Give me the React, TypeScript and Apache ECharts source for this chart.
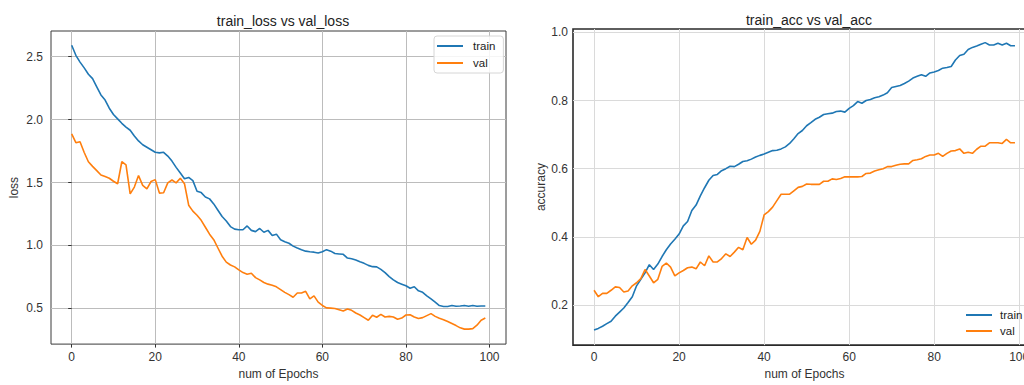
import React, { useEffect, useRef } from "react";
import * as echarts from "echarts";

const trainLoss = [
  2.59, 2.51, 2.456, 2.41, 2.36, 2.325, 2.26, 2.195, 2.155, 2.09,
  2.04, 2.005, 1.97, 1.94, 1.915, 1.87, 1.83, 1.8, 1.78, 1.76,
  1.74, 1.735, 1.74, 1.71, 1.67, 1.62, 1.575, 1.53, 1.54, 1.515,
  1.43, 1.42, 1.385, 1.37, 1.33, 1.28, 1.23, 1.195, 1.15, 1.13,
  1.125, 1.125, 1.155, 1.12, 1.11, 1.135, 1.105, 1.12, 1.08, 1.09,
  1.045, 1.03, 1.018, 0.995, 0.98, 0.967, 0.955, 0.95, 0.947, 0.94,
  0.95, 0.967, 0.955, 0.936, 0.933, 0.93, 0.9, 0.894, 0.884, 0.87,
  0.858, 0.842, 0.832, 0.83, 0.81, 0.785, 0.753, 0.727, 0.706, 0.693,
  0.68, 0.66, 0.672, 0.64, 0.628, 0.6, 0.576, 0.55, 0.523, 0.516,
  0.516, 0.523, 0.518, 0.52, 0.523, 0.518, 0.523, 0.518, 0.52, 0.52,
];

const valLoss = [
  1.886, 1.816, 1.824, 1.738, 1.665, 1.628, 1.594, 1.56, 1.547, 1.534,
  1.51, 1.49, 1.665, 1.64, 1.41, 1.464, 1.555, 1.477, 1.45, 1.508,
  1.523, 1.416, 1.419, 1.497, 1.52, 1.497, 1.534, 1.49, 1.32, 1.273,
  1.24, 1.2, 1.145, 1.09, 1.046, 0.98, 0.915, 0.868, 0.845, 0.83,
  0.806, 0.785, 0.772, 0.78, 0.745, 0.727, 0.706, 0.693, 0.685, 0.672,
  0.65, 0.628, 0.61, 0.589, 0.623, 0.623, 0.636, 0.576, 0.6, 0.55,
  0.524, 0.505, 0.503, 0.5, 0.49, 0.48, 0.495, 0.485, 0.464, 0.448,
  0.427, 0.406, 0.446, 0.43, 0.453, 0.432, 0.437, 0.432, 0.414, 0.424,
  0.448, 0.45, 0.432, 0.42, 0.427, 0.443, 0.459, 0.437, 0.422, 0.411,
  0.396, 0.38, 0.364, 0.346, 0.336, 0.336, 0.34, 0.367, 0.406, 0.424,
];

const trainAcc = [
  0.126, 0.131, 0.1375, 0.145, 0.152, 0.167, 0.179, 0.191, 0.207, 0.224,
  0.256, 0.275, 0.294, 0.318, 0.304, 0.32, 0.342, 0.362, 0.379, 0.393,
  0.408, 0.432, 0.445, 0.477, 0.493, 0.52, 0.544, 0.566, 0.58, 0.583,
  0.594, 0.6, 0.607, 0.606, 0.613, 0.621, 0.623, 0.628, 0.634, 0.639,
  0.643, 0.648, 0.653, 0.654, 0.658, 0.664, 0.674, 0.688, 0.703, 0.712,
  0.726, 0.735, 0.745, 0.751, 0.759, 0.761, 0.763, 0.768, 0.769, 0.766,
  0.777, 0.785, 0.797, 0.792, 0.8, 0.803, 0.808, 0.811, 0.816, 0.823,
  0.838, 0.841, 0.844, 0.85, 0.857, 0.866, 0.871, 0.876, 0.871, 0.881,
  0.884, 0.888, 0.895, 0.897, 0.9, 0.919, 0.932, 0.936, 0.95, 0.956,
  0.96, 0.965, 0.97, 0.963, 0.963, 0.968, 0.963, 0.968, 0.961, 0.961,
];

const valAcc = [
  0.243, 0.224, 0.234, 0.234, 0.243, 0.253, 0.251, 0.238, 0.241, 0.256,
  0.265, 0.277, 0.304, 0.285, 0.265, 0.275, 0.313, 0.323, 0.311, 0.285,
  0.294, 0.301, 0.309, 0.311, 0.306, 0.326, 0.315, 0.344, 0.326, 0.326,
  0.336, 0.35, 0.342, 0.355, 0.369, 0.362, 0.398, 0.378, 0.39, 0.416,
  0.464, 0.474, 0.487, 0.506, 0.525, 0.525, 0.525, 0.535, 0.545, 0.548,
  0.555, 0.554, 0.554, 0.554, 0.563, 0.563, 0.57, 0.568, 0.571, 0.576,
  0.576, 0.576, 0.576, 0.577, 0.586, 0.587, 0.593, 0.597, 0.6, 0.606,
  0.606, 0.61, 0.613, 0.614, 0.614, 0.624, 0.626, 0.629, 0.636, 0.64,
  0.64, 0.645, 0.636, 0.645, 0.652, 0.653, 0.658, 0.645, 0.648, 0.645,
  0.657, 0.666, 0.666, 0.676, 0.676, 0.676, 0.674, 0.686, 0.676, 0.676,
];

const xTicks = [0, 20, 40, 60, 80, 100];
const lossTicks = [0.5, 1.0, 1.5, 2.0, 2.5];
const accTicks = [0.2, 0.4, 0.6, 0.8, 1.0];
const seriesNames = ["train", "val"];
const titles = ["train_loss vs val_loss", "train_acc vs val_acc"];
const xName = "num of Epochs";
const yNames = ["loss", "accuracy"];

const BLUE = "#1f77b4";
const ORANGE = "#ff7f0e";
const FONT = "Liberation Sans";

const pairs = (arr: number[]) => arr.map((v, i) => [i, v]);

export default function App() {
  const ref = useRef<HTMLDivElement>(null);
  useEffect(() => {
    if (!ref.current) return;
    const chart = echarts.init(ref.current, undefined, { renderer: "svg" });
    const tickLabel = { fontFamily: FONT, fontSize: 12, color: "#333" };
    const nameStyle = { fontFamily: FONT, fontSize: 12, color: "#333" };
    const option: any = {
      animation: false,
      backgroundColor: "#ffffff",
      title: [
        {
          text: titles[0],
          left: 278,
          top: 9,
          textAlign: "center",
          textStyle: { fontFamily: FONT, fontSize: 14, fontWeight: "normal", color: "#222" },
        },
        {
          text: titles[1],
          left: 804,
          top: 8,
          textAlign: "center",
          textStyle: { fontFamily: FONT, fontSize: 14, fontWeight: "normal", color: "#222" },
        },
      ],
      legend: [
        {
          data: seriesNames,
          orient: "vertical",
          left: 434,
          top: 36,
          padding: [4, 8, 4, 3],
          itemGap: 5,
          itemWidth: 26,
          itemHeight: 2,
          icon: "rect",
          borderColor: "#d6d6d6",
          borderWidth: 1,
          borderRadius: 3,
          backgroundColor: "rgba(255,255,255,0.85)",
          textStyle: { fontFamily: FONT, fontSize: 11.5, color: "#222", padding: [0, 0, 0, 5] },
          selectedMode: false,
        },
        {
          data: seriesNames,
          orient: "vertical",
          left: 966,
          top: 309,
          padding: 0,
          itemGap: 4,
          itemWidth: 26,
          itemHeight: 2,
          icon: "rect",
          textStyle: { fontFamily: FONT, fontSize: 11.5, color: "#222", padding: [0, 0, 0, 3] },
          selectedMode: false,
        },
      ],
      grid: [
        {
          left: 51,
          top: 31,
          width: 455,
          height: 316,
          show: true,
          borderColor: "#3a3a3a",
          borderWidth: 1,
          backgroundColor: "transparent",
        },
        {
          left: 573,
          top: 29,
          width: 463,
          height: 321,
          show: true,
          borderColor: "#2a2a2a",
          borderWidth: 1.6,
          backgroundColor: "transparent",
        },
      ],
      xAxis: [0, 1].map((g) => ({
        type: "value",
        gridIndex: g,
        min: -4.95,
        max: 103.95,
        name: xName,
        nameLocation: "middle",
        nameGap: g === 0 ? 22 : 20,
        nameTextStyle: nameStyle,
        axisLine: { show: false },
        axisTick: {
          show: g === 0,
          customValues: xTicks,
          length: 3.5,
          lineStyle: { color: "#333" },
        },
        axisLabel: {
          ...tickLabel,
          customValues: xTicks,
          margin: g === 0 ? 7 : 6,
        },
        splitLine: {
          show: true,
          lineStyle: { color: g === 0 ? "#bcbcbc" : "#dadada", width: 1 },
        },
      })),
      yAxis: [0, 1].map((g) => ({
        type: "value",
        gridIndex: g,
        min: g === 0 ? 0.217 : 0.082,
        max: g === 0 ? 2.703 : 1.01,
        name: yNames[g],
        nameLocation: "middle",
        nameGap: g === 0 ? 31 : 26,
        nameTextStyle: nameStyle,
        axisLine: { show: false },
        axisTick: {
          show: g === 0,
          customValues: g === 0 ? lossTicks : accTicks,
          length: 3.5,
          lineStyle: { color: "#333" },
        },
        axisLabel: {
          ...tickLabel,
          customValues: g === 0 ? lossTicks : accTicks,
          margin: g === 0 ? 8 : 5,
          formatter: (v: number) => v.toFixed(1),
        },
        splitLine: {
          show: true,
          lineStyle: { color: g === 0 ? "#bcbcbc" : "#dadada", width: 1 },
        },
      })),
      series: [
        { name: "train", data: pairs(trainLoss), xAxisIndex: 0, yAxisIndex: 0, color: BLUE },
        { name: "val", data: pairs(valLoss), xAxisIndex: 0, yAxisIndex: 0, color: ORANGE },
        { name: "train", data: pairs(trainAcc), xAxisIndex: 1, yAxisIndex: 1, color: BLUE },
        { name: "val", data: pairs(valAcc), xAxisIndex: 1, yAxisIndex: 1, color: ORANGE },
      ].map((s) => ({
        ...s,
        type: "line",
        showSymbol: false,
        symbol: "none",
        lineStyle: { width: 1.6, color: s.color },
        itemStyle: { color: s.color },
      })),
    };
    chart.setOption(option);
    return () => chart.dispose();
  }, []);
  return (
    <div
      style={{
        position: "fixed",
        left: 0,
        top: 0,
        width: 1024,
        height: 385,
        overflow: "hidden",
        background: "#fff",
      }}
    >
      <div ref={ref} style={{ width: 1044, height: 385 }} />
    </div>
  );
}
